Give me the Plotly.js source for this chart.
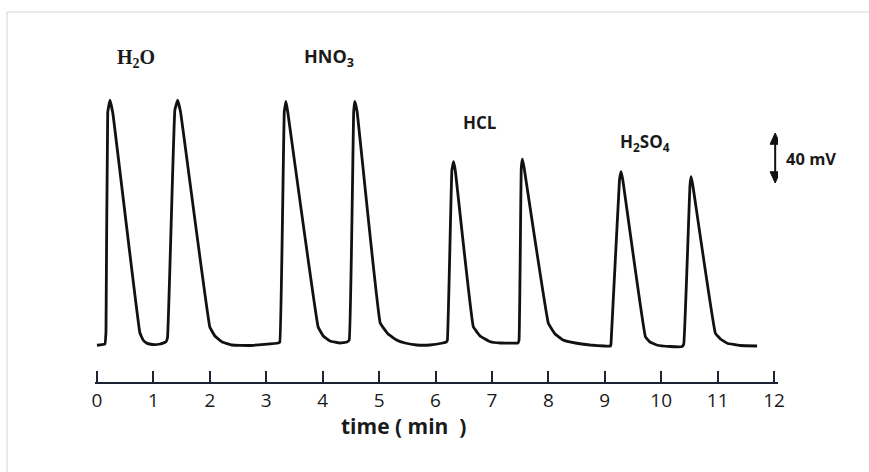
<!DOCTYPE html>
<html>
<head>
<meta charset="utf-8">
<script src="https://cdn.plot.ly/plotly-3.0.1.min.js"></script>
<style>html,body{margin:0;padding:0;background:#fff;}#chart{width:869px;height:472px;}</style>
</head>
<body>
<div id="chart"></div>
<script>
// time in minutes, signal in mV (relative to baseline)
const timeMin = [
  0.00, 0.14, 0.16, 0.19, 0.23, 0.28, 0.76, 0.82, 0.89, 0.98, 1.12, 1.22,
  1.25, 1.38, 1.43, 1.48, 2.00, 2.09, 2.22, 2.39, 2.71, 3.21,
  3.24, 3.32, 3.35, 3.38, 3.92, 4.01, 4.13, 4.31, 4.43,
  4.47, 4.55, 4.57, 4.61, 5.02, 5.16, 5.31, 5.46, 5.67, 5.90, 6.13, 6.19,
  6.21, 6.29, 6.32, 6.35, 6.67, 6.79, 6.97, 7.15, 7.46,
  7.48, 7.52, 7.54, 7.57, 8.00, 8.12, 8.26, 8.48, 8.74, 9.00, 9.10,
  9.11, 9.26, 9.29, 9.32, 9.72, 9.80, 9.92, 10.16, 10.37,
  10.40, 10.51, 10.53, 10.56, 10.96, 11.05, 11.17, 11.40, 11.70
];
const signalMv = [
  -1.0, 0.0, 10.0, 185.0, 195.0, 185.0, 9.0, 3.0, 0.5, -0.4, 0.0, 1.6,
  5.0, 187.0, 195.0, 186.0, 13.6, 6.4, 1.6, -0.8, -1.2, 0.8,
  1.6, 186.0, 194.0, 186.0, 13.6, 6.4, 2.4, 0.8, 1.6,
  3.0, 186.0, 194.0, 186.0, 16.8, 8.0, 3.2, 0.8, -0.8, -0.8, 0.8, 1.6,
  3.0, 139.0, 145.8, 139.0, 13.8, 6.4, 1.8, 0.8, 0.8,
  3.0, 141.0, 147.8, 141.0, 16.6, 8.0, 3.2, 0.8, -0.8, -1.6, -1.6,
  0.0, 131.0, 137.8, 131.0, 5.8, 1.6, -0.8, -2.0, -2.0,
  0.0, 127.0, 133.8, 127.0, 8.6, 4.0, 0.6, -1.2, -1.6
];
const tickVals = [0,1,2,3,4,5,6,7,8,9,10,11,12];
const tickText = ["0","1","2","3","4","5","6","7","8","9","10","11","12"];
const sampleLabels = ["H<sub>2</sub>O", "HNO<sub>3</sub>", "HCL", "H<sub>2</sub>SO<sub>4</sub>"];
const labelTime = [0.69, 4.11, 6.79, 9.72];
const labelMv = [228.8, 229.6, 177.6, 161.6];
const labelFonts = ["Liberation Serif", "Open Sans", "Open Sans", "Open Sans"];
const labelSizes = [20, 18, 17, 17];
const scaleBarMv = 40;
const scaleBarCenterMv = 148.8;
const scaleBarTime = 12.02;

const trace = {
  x: timeMin, y: signalMv, type: 'scatter', mode: 'lines',
  line: {color: '#111111', width: 2.8, shape: 'spline', smoothing: 0.25},
  hoverinfo: 'skip', showlegend: false
};

const annotations = sampleLabels.map((t, i) => ({
  x: labelTime[i], y: labelMv[i], xref: 'x', yref: 'y', text: '<b>' + t + '</b>',
  showarrow: false, font: {family: labelFonts[i], size: labelSizes[i], color: '#1a1a1a'}
}));
annotations.push(
  {x: 1.009, y: scaleBarCenterMv, xref: 'paper', yref: 'y', xanchor: 'left', text: '<b>40 mV</b>',
   showarrow: false, font: {family: 'Open Sans', size: 16.5, color: '#1a1a1a'}},
  {x: 0.451, y: -0.122, xref: 'paper', yref: 'paper', yanchor: 'middle', text: '<b>time ( min  )</b>',
   showarrow: false, font: {family: 'Open Sans', size: 21, color: '#1a1a1a'}}
);

// scale bar (double arrow) built from the scale bar values
const barTop = scaleBarCenterMv + scaleBarMv / 2, barBot = scaleBarCenterMv - scaleBarMv / 2;
const headH = 9, headW = 0.09;
const xL = scaleBarTime - headW, xR = scaleBarTime + headW;
const upHead = `M ${xL} ${barTop - headH} L ${scaleBarTime} ${barTop} L ${xR} ${barTop - headH} Z`;
const downHead = `M ${xL} ${barBot + headH} L ${scaleBarTime} ${barBot} L ${xR} ${barBot + headH} Z`;

const layout = {
  width: 869, height: 472,
  margin: {l: 95, r: 91, t: 20, b: 90},
  paper_bgcolor: '#ffffff', plot_bgcolor: '#ffffff',
  xaxis: {
    range: [-0.035, 12.07], tickvals: tickVals, ticktext: tickText,
    ticks: 'inside', ticklen: 11, tickwidth: 2, tickcolor: '#1c2433',
    showline: true, linecolor: '#1c2433', linewidth: 2,
    showgrid: false, zeroline: false, fixedrange: true,
    tickfont: {family: 'Open Sans', size: 19, color: '#1a1a1a'}
  },
  yaxis: {range: [-30.4, 259.2], visible: false, fixedrange: true},
  shapes: [
    {type: 'rect', xref: 'paper', yref: 'paper', x0: -0.1288, x1: 1.3, y0: -0.5, y1: 1.0221,
     line: {color: '#d4d4d4', width: 1}, fillcolor: 'rgba(0,0,0,0)', layer: 'below'},
    {type: 'line', xref: 'x', yref: 'y', x0: scaleBarTime, x1: scaleBarTime, y0: barBot + 4, y1: barTop - 4,
     line: {color: '#111111', width: 2}},
    {type: 'path', xref: 'x', yref: 'y', path: upHead, fillcolor: '#111111', line: {color: '#111111', width: 1}},
    {type: 'path', xref: 'x', yref: 'y', path: downHead, fillcolor: '#111111', line: {color: '#111111', width: 1}}
  ],
  annotations: annotations,
  showlegend: false
};

Plotly.newPlot('chart', [trace], layout, {displayModeBar: false, staticPlot: true});
</script>
</body>
</html>
